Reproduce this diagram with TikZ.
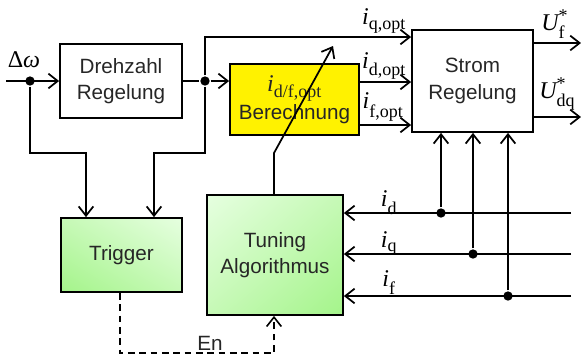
\documentclass[tikz,border=0pt]{standalone}
\usepackage{fontspec}
\setmainfont{Liberation Sans}
\newfontfamily\lserif{Liberation Serif}
\usetikzlibrary{arrows.meta,calc,shadings}
\definecolor{gA}{HTML}{A4F48A}
\definecolor{gB}{HTML}{E6FFE0}
\definecolor{gM}{HTML}{C6F9B6}
\newcommand{\subtx}[1]{\hbox{\lserif\fontsize{13.5}{14}\selectfont #1}}
\newcommand{\cur}[2]{$\hbox{\lserif\fontsize{18}{20}\selectfont\itshape #1}_{\subtx{#2}}$}
\newcommand{\volt}[1]{{\lserif\fontsize{18}{20}\selectfont\itshape U}\rlap{\raisebox{7pt}{\subtx{*}}}\raisebox{-5.5pt}{\subtx{#1}}}
\begin{document}
\begin{tikzpicture}[x=0.75pt,y=-0.75pt,
  line width=1.3pt,
  box/.style={draw, line width=1.3pt, align=center, inner sep=0pt, text=black!85,
    font=\fontsize{15.5}{20}\selectfont},
  arr/.style={-{Straight Barb[length=7pt,width=11pt]}},
  dot/.style={circle, fill, inner sep=0pt, minimum size=7pt},
  lbl/.style={inner sep=0pt}]
\useasboundingbox (0,0) rectangle (581,358);
% boxes
\node[box, minimum width=91.5pt, minimum height=56pt] (dreh) at (121,81) {Drehzahl\\Regelung};
\node[box, fill=yellow, minimum width=96.75pt, minimum height=53.25pt] (calc) at (294.5,99.5) {\cur{i}{d/f,opt}\\[1pt]Berechnung};
\node[box, minimum width=90.75pt, minimum height=76.5pt] (strom) at (472.5,81) {Strom\\Regelung};
\node[box, lower left=gA, upper left=gM, upper right=gB, lower right=gM, minimum width=90.75pt, minimum height=55.5pt] (trig) at (121.5,255) {Trigger};
\node[box, lower left=gM, upper left=gB, upper right=gM, lower right=gA, minimum width=102pt, minimum height=90pt] (tun) at (275,255) {Tuning\\Algorithmus};
% input
\coordinate (in) at (6,81);
\node[dot] (d1) at (30,81) {};
\node[dot] (d2) at (205,81) {};
\draw[arr] (in) -- (dreh.west);
\draw (dreh.east) -- (d2);
\draw[arr] (d2) -- (d2 -| calc.west);
\coordinate (top) at (205,37);
\draw[arr] (d2) -- (top) -- (top -| strom.west);
\coordinate (yd) at (0,82);
\coordinate (yf) at (0,125);
\draw[arr] (calc.east |- yd) -- (strom.west |- yd);
\draw[arr] (calc.east |- yf) -- (strom.west |- yf);
% outputs
\coordinate (uf) at (581,43);
\coordinate (ud) at (581,117);
\draw[arr] (strom.east |- uf) -- (uf);
\draw[arr] (strom.east |- ud) -- (ud);
% trigger inputs
\coordinate (t1) at (86,153);
\coordinate (t2) at (154,153);
\draw[arr] (d1) |- (t1) -- (t1 |- trig.north);
\draw[arr] (d2) |- (t2) -- (t2 |- trig.north);
% tuning diagonal
\coordinate (k) at (274,153);
\coordinate (ktip) at (333,46);
\draw[arr] (k |- tun.north) -- (k) -- (ktip);
% measured currents
\coordinate (rd) at (571,213);
\coordinate (rq) at (571,254);
\coordinate (rf) at (571,296);
\draw[arr] (rd) -- (tun.east |- rd);
\draw[arr] (rq) -- (tun.east |- rq);
\draw[arr] (rf) -- (tun.east |- rf);
\node[dot] (pd) at (441,213) {};
\node[dot] (pq) at (473,254) {};
\node[dot] (pf) at (508,296) {};
\draw[arr] (pd) -- (pd |- strom.south);
\draw[arr] (pq) -- (pq |- strom.south);
\draw[arr] (pf) -- (pf |- strom.south);
% enable
\coordinate (e1) at (120,353);
\draw[arr, dashed, dash pattern=on 5pt off 3.5pt, line width=1.2pt] (trig.south -| e1) -- (e1) -- (e1 -| k) -- (k |- tun.south);
% labels
\node[lbl] (lw) at (24,60) {\lserif\fontsize{18}{20}\selectfont Δ\textit{ω}};
\node[lbl] (lq) at (384,21) {\cur{i}{q,opt}};
\node[lbl] (ldo) at (384,66) {\cur{i}{d,opt}};
\node[lbl] (lfo) at (383,107) {\cur{i}{f,opt}};
\node[lbl] (luf) at (553,24) {\volt{f}};
\node[lbl] (lud) at (557,94) {\volt{dq}};
\node[lbl] (lid) at (389,203) {\cur{i}{d}};
\node[lbl] (liq) at (389,243) {\cur{i}{q}};
\node[lbl] (lif) at (389,283) {\cur{i}{f}};
\node[box, draw=none, inner sep=0pt] (len) at (210,343) {En};
\end{tikzpicture}
\end{document}
